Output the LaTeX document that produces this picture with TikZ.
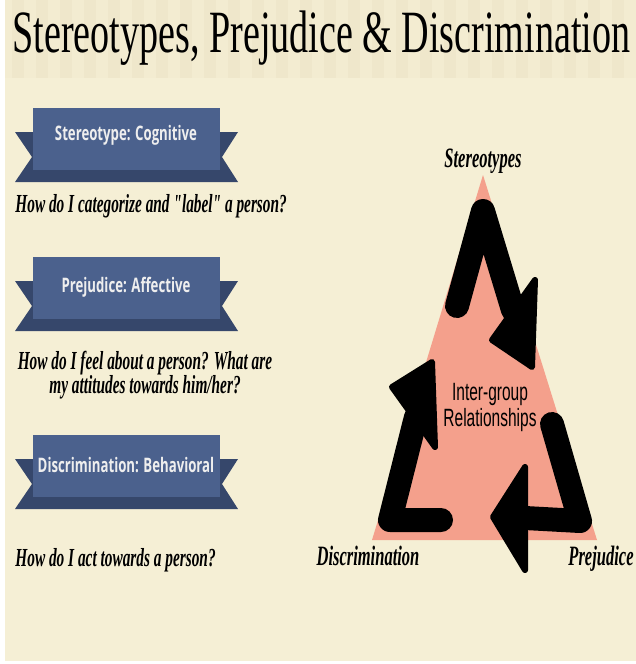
\documentclass[tikz,border=0pt]{standalone}
\usepackage{fontspec}
\usetikzlibrary{calc}
\newfontfamily\titlefont[FakeStretch=0.635]{Liberation Serif}
\newfontfamily\handfont[FakeStretch=0.59]{Liberation Serif}
\newfontfamily\bannerfont[FakeStretch=0.66]{Open Sans}
\newfontfamily\labelfont[FakeStretch=0.62]{Liberation Sans}
\definecolor{paper}{RGB}{245,239,213}
\definecolor{band}{RGB}{243,236,209}
\definecolor{bandstripe}{RGB}{239,231,203}
\definecolor{salmon}{RGB}{244,160,140}
\definecolor{ribbonfront}{RGB}{75,97,141}
\definecolor{ribbonback}{RGB}{54,71,107}
\definecolor{ribbontext}{RGB}{238,238,238}

\begin{document}
\begin{tikzpicture}[x=0.5pt,y=-0.5pt,
	question/.style={font=\handfont\bfseries\itshape\fontsize{13}{12}\selectfont, inner sep=0},
	ribbontitle/.style={font=\bannerfont\bfseries\fontsize{10}{10}\selectfont, text=ribbontext, inner sep=0},
	cornerlabel/.style={font=\handfont\bfseries\itshape\fontsize{14}{12}\selectfont, inner sep=0},
	cyclearrow/.style={line width=12pt, line cap=round, line join=round},
	arrowhead/.style={fill=black, draw=black, line width=3pt, line join=round}]
		\useasboundingbox (0,0) rectangle (636,664);
		\fill [white] (0,0) rectangle (636,664);
		\fill [paper] (5,0) rectangle (636,661);
		\fill [band] (5,0) rectangle (636,78);
		\foreach \s in {0,...,25}
			\fill [bandstripe] (12+\s*24,0) rectangle +(12,78);
		
		\node [font=\titlefont\fontsize{30}{30}\selectfont, anchor=base west, inner sep=0] (title) at (12,53) {Stereotypes, Prejudice \& Discrimination};
		
		\fill [ribbonback] (15,132) -- (238,132) -- (222,157) -- (238,182) -- (15,182) -- (32,157) -- cycle;
		\fill [ribbonfront] (33,108) rectangle (220,170);
		\node [ribbontitle] (rib1) at (126,135) {Stereotype: Cognitive};
		
		\fill [ribbonback] (15,281) -- (238,281) -- (222,306) -- (238,331) -- (15,331) -- (32,306) -- cycle;
		\fill [ribbonfront] (33,257) rectangle (220,319);
		\node [ribbontitle] (rib2) at (126,287) {Prejudice: Affective};
		
		\fill [ribbonback] (15,459) -- (238,459) -- (222,484) -- (238,509) -- (15,509) -- (32,484) -- cycle;
		\fill [ribbonfront] (33,435) rectangle (220,497);
		\node [ribbontitle] (rib3) at (126,465) {Discrimination: Behavioral};
		
		\node [question, anchor=base west] (q1) at (15,212) {How do I categorize and "label" a person?};
		\node [question, align=center, anchor=base] (q2) at (145,393) {How do I feel about a person? What are\\my attitudes towards him/her?};
		\node [question, anchor=base west] (q3) at (15,566) {How do I act towards a person?};
		
		\coordinate (apex) at (483,175);
		\coordinate (bleft) at (372,540);
		\coordinate (bright) at (597,540);
		\fill [salmon] (apex) -- (bleft) -- (bright) -- cycle;
		
		\draw [cyclearrow] (457,306) -- (483,211) -- (513,310);
		\filldraw [arrowhead] (535,280) -- (532,367) -- (492,340) -- cycle;
		\draw [cyclearrow] (552,424) -- (580,521) -- (525,518);
		\filldraw [arrowhead] (525,467) -- (493,517) -- (525,570) -- cycle;
		\draw [cyclearrow] (441,520) -- (390,520) -- (416,417);
		\filldraw [arrowhead] (392,387) -- (432,362) -- (435,447) -- cycle;
		
		\node [font=\labelfont\fontsize{12.5}{13}\selectfont, align=center, anchor=base] (centre) at (490,426) {Inter-group\\Relationships};
		
		\node [cornerlabel, anchor=base] (stereo) at (483,167) {Stereotypes};
		\node [cornerlabel, anchor=base] (discrim) at (368,565) {Discrimination};
		\node [cornerlabel, anchor=base east] (prejud) at (634,565) {Prejudice};
\end{tikzpicture}
\end{document}
